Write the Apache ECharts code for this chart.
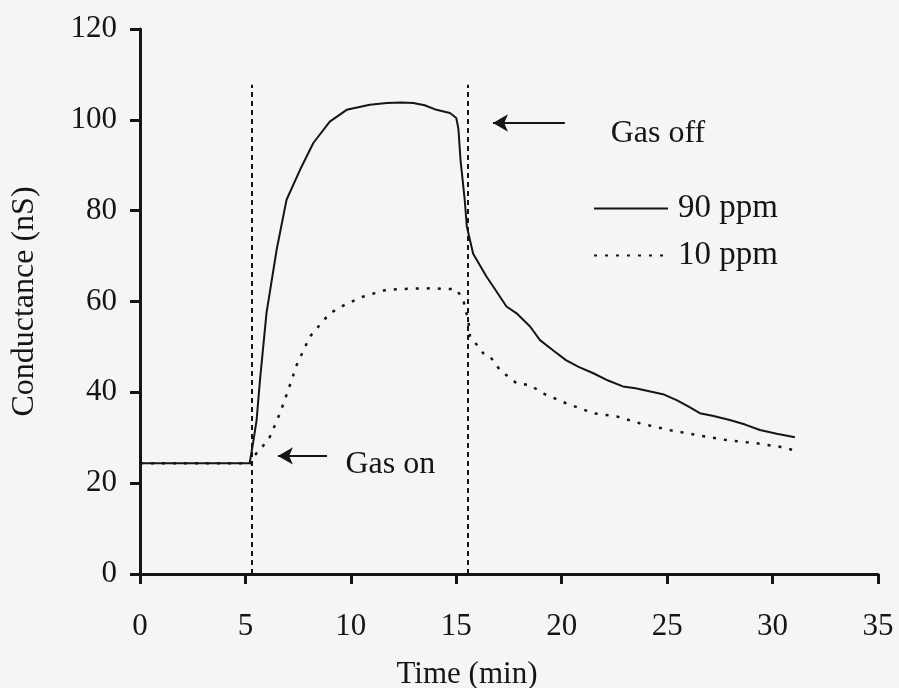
<!DOCTYPE html>
<html>
<head>
<meta charset="utf-8">
<script src="https://cdn.jsdelivr.net/npm/echarts@6/dist/echarts.min.js"></script>
<style>html,body{margin:0;padding:0;background:#f5f5f3}#c{width:899px;height:688px}</style>
</head>
<body>
<div id="c"></div>
<script>
// ---- data ----
const time90 = [0, 5.2, 5.35, 5.53, 5.69, 6.0, 6.48, 6.95, 7.59, 8.22, 9.0, 9.8, 10.9, 11.7, 12.4, 12.96, 13.5, 14.06, 14.7, 15.0, 15.1, 15.2, 15.4, 15.5, 15.8, 16.43, 16.75, 17.38, 17.86, 18.5, 18.97, 19.6, 20.2, 20.8, 21.5, 22.2, 22.9, 23.5, 24.2, 24.8, 25.45, 26.0, 26.55, 27.2, 27.97, 28.7, 29.4, 30.2, 31.06];
const cond90 = [24.4, 24.4, 28.5, 33.9, 42.7, 57.5, 71.4, 82.4, 89, 94.9, 99.6, 102.2, 103.3, 103.7, 103.8, 103.7, 103.2, 102.2, 101.5, 100.4, 98, 91.2, 82.4, 76.5, 70.5, 65.5, 63.3, 58.9, 57.4, 54.5, 51.5, 49.2, 47.1, 45.6, 44.2, 42.6, 41.3, 40.9, 40.2, 39.6, 38.3, 36.9, 35.4, 34.8, 33.9, 32.9, 31.7, 30.9, 30.1];
const time10 = [0, 5.3, 5.37, 5.8, 6.16, 6.64, 7.03, 7.43, 8.06, 9.0, 9.8, 10.6, 11.7, 12.7, 13.75, 14.5, 15.0, 15.33, 15.45, 15.57, 15.65, 15.8, 16.28, 16.6, 17.07, 17.86, 18.5, 19.1, 20.2, 21.5, 22.6, 23.7, 25.1, 26.4, 27.8, 29.2, 30.35, 30.97];
const cond10 = [24.4, 24.4, 25.8, 28, 30.2, 35.4, 40.5, 46, 52.3, 57.4, 59.5, 61.1, 62.6, 62.8, 62.9, 62.8, 62.7, 60.4, 58, 55.9, 52.3, 51.5, 48.6, 47.9, 44.9, 42.0, 41.6, 39.8, 37.6, 35.4, 34.7, 33.2, 31.7, 30.6, 29.5, 28.8, 28.0, 27.3];
const seriesNames = ['90 ppm', '10 ppm'];
const gasOnTime = 5.3, gasOffTime = 15.55, markerTop = 107.7;
const xTicks = {min: 0, max: 35, interval: 5};
const yTicks = {min: 0, max: 120, interval: 20};

const FONT = '"Liberation Serif", "DejaVu Serif", serif';
const INK = '#151515';
const pair = (xs, ys) => xs.map((x, i) => [x, ys[i]]);

const chart = echarts.init(document.getElementById('c'), null, {renderer: 'canvas'});
chart.setOption({
  backgroundColor: '#f5f5f3',
  animation: false,
  grid: {left: 140, right: 21, top: 29, bottom: 114, containLabel: false, outerBoundsMode: 'none'},
  legend: {
    orient: 'vertical', left: 588, top: 187, padding: 5,
    itemWidth: 74, itemHeight: 22, itemGap: 14,
    data: seriesNames,
    itemStyle: {color: 'rgba(0,0,0,0)', borderColor: 'rgba(0,0,0,0)', borderWidth: 0, opacity: 0},
    textStyle: {fontFamily: FONT, fontSize: 33, lineHeight: 30, color: INK, padding: [0, 0, 0, 5]}
  },
  xAxis: {
    type: 'value', min: xTicks.min, max: xTicks.max, interval: xTicks.interval,
    name: 'Time (min)', nameLocation: 'middle', nameGap: 85,
    nameTextStyle: {fontFamily: FONT, fontSize: 31, color: INK, padding: [0, 84, 0, 0]},
    axisLine: {lineStyle: {color: INK, width: 3}},
    axisTick: {length: 10, lineStyle: {color: INK, width: 3}},
    axisLabel: {fontFamily: FONT, fontSize: 31, color: INK, margin: 37},
    splitLine: {show: false}
  },
  yAxis: {
    type: 'value', min: yTicks.min, max: yTicks.max, interval: yTicks.interval,
    name: 'Conductance (nS)', nameLocation: 'middle', nameGap: 99,
    nameTextStyle: {fontFamily: FONT, fontSize: 32, color: INK},
    axisLine: {show: true, lineStyle: {color: INK, width: 3}},
    axisTick: {show: true, length: 10, lineStyle: {color: INK, width: 3}},
    axisLabel: {fontFamily: FONT, fontSize: 31, color: INK, margin: 23},
    splitLine: {show: false}
  },
  series: [
    {
      name: seriesNames[0], type: 'line', data: pair(time90, cond90),
      symbol: 'none', lineStyle: {color: INK, width: 2}, itemStyle: {color: INK},
      z: 3,
      markLine: {
        silent: true, symbol: 'none', label: {show: false},
        lineStyle: {color: INK, width: 2, type: [5, 4]},
        data: [
          [{coord: [gasOnTime, 0]}, {coord: [gasOnTime, markerTop]}],
          [{coord: [gasOffTime, 0]}, {coord: [gasOffTime, markerTop]}],
          [{coord: [20.15, 99.3], symbol: 'none', lineStyle: {type: 'solid', width: 2}},
           {coord: [16.74, 99.3], symbol: 'arrow', symbolSize: [13, 15]}],
          [{coord: [8.87, 26.0], symbol: 'none', lineStyle: {type: 'solid', width: 2}},
           {coord: [6.54, 26.0], symbol: 'arrow', symbolSize: [13, 15]}]
        ]
      },
      markPoint: {
        silent: true, symbol: 'rect', symbolSize: 1,
        itemStyle: {color: 'rgba(0,0,0,0)'},
        label: {show: true, position: 'right', distance: 0, fontFamily: FONT, fontSize: 32, color: INK},
        data: [
          {coord: [22.3, 97.0], label: {formatter: 'Gas off'}},
          {coord: [9.72, 24.0], label: {formatter: 'Gas on'}}
        ]
      }
    },
    {
      name: seriesNames[1], type: 'line', data: pair(time10, cond10),
      symbol: 'none', lineStyle: {color: INK, width: 2.5, type: [3, 8]}, itemStyle: {color: INK},
      z: 2
    }
  ]
});
</script>
</body>
</html>
